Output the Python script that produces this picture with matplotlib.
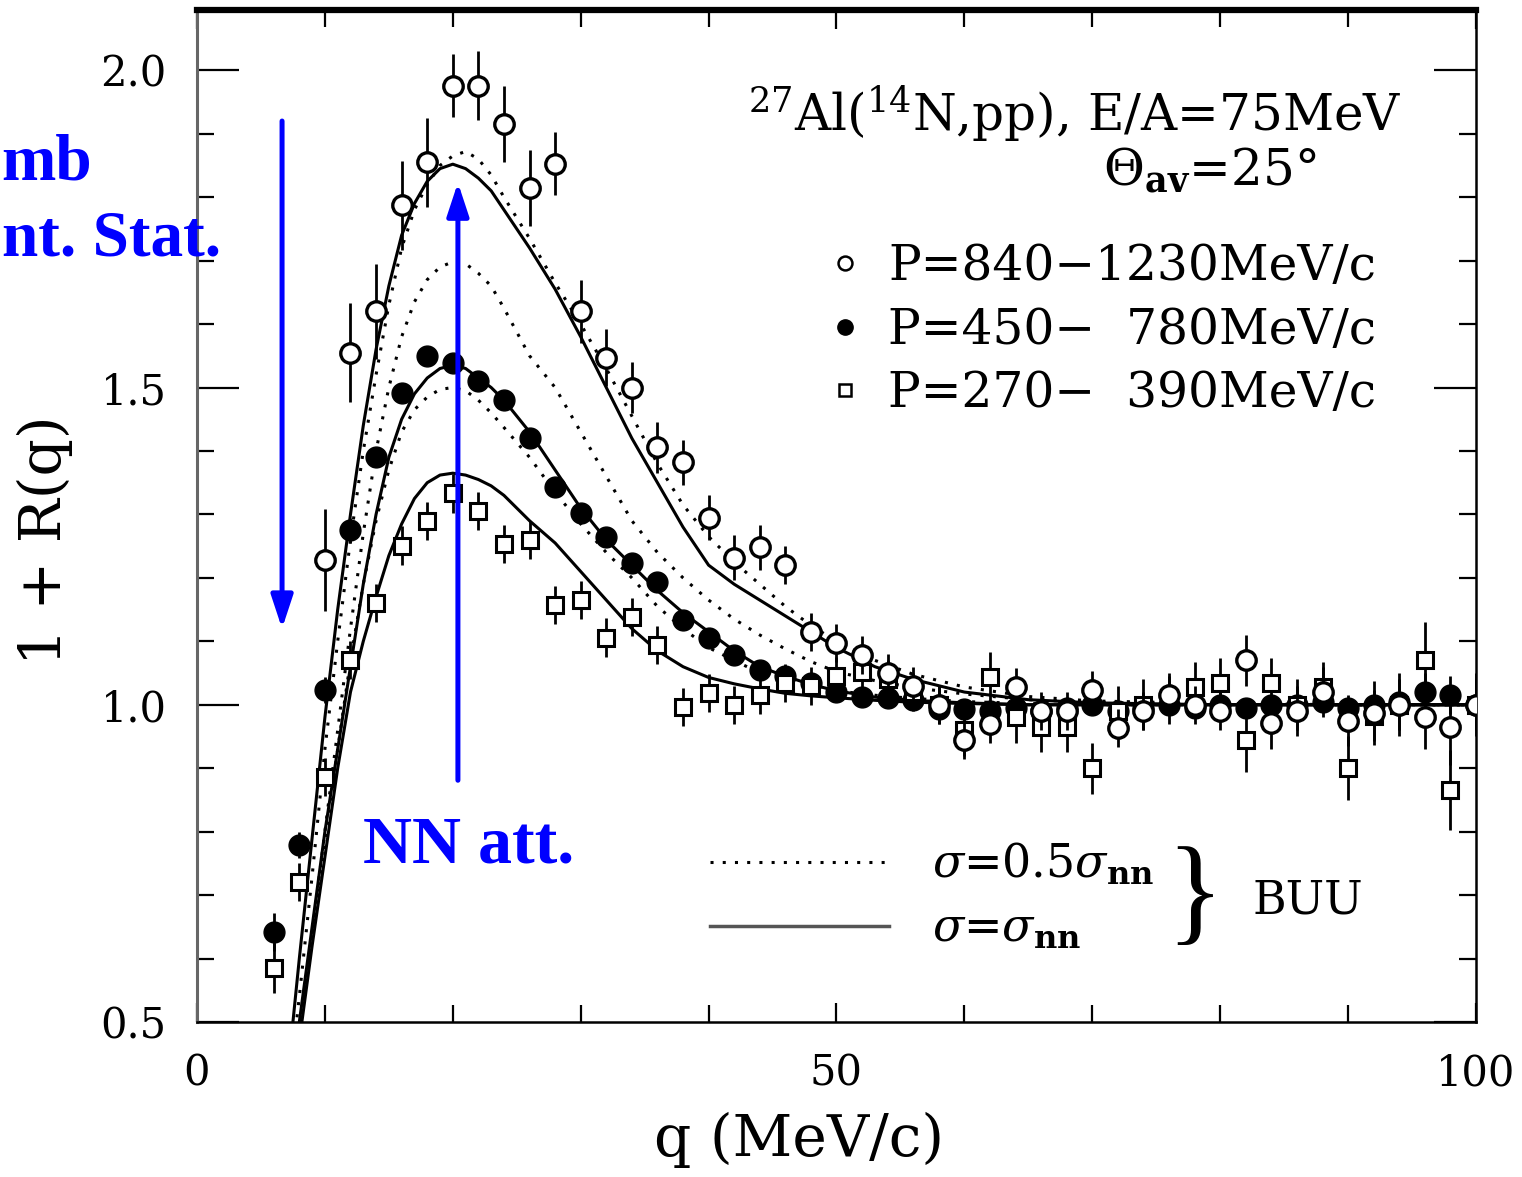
import matplotlib
matplotlib.use("Agg")
import matplotlib.pyplot as plt
from matplotlib.lines import Line2D
from matplotlib.ticker import MultipleLocator

plt.rcParams['font.family'] = 'DejaVu Serif'
plt.rcParams['mathtext.fontset'] = 'dejavuserif'

# data points, q in MeV/c
q_open = [10, 12, 14, 16, 18, 20, 22, 24, 26, 28, 30, 32, 34, 36, 38, 40, 42, 44, 46, 48,
          50, 52, 54, 56, 58, 60, 62, 64, 66, 68, 70, 72, 74, 76, 78, 80, 82, 84, 86, 88,
          90, 92, 94, 96, 98, 100]
r_open = [1.228, 1.555, 1.62, 1.787, 1.855, 1.976, 1.976, 1.916, 1.815, 1.853, 1.62, 1.547,
          1.50, 1.406, 1.382, 1.295, 1.232, 1.248, 1.22, 1.114, 1.097, 1.078, 1.05, 1.03,
          1.0, 0.945, 0.97, 1.028, 0.99, 0.99, 1.023, 0.963, 0.99, 1.015, 1.0, 0.99, 1.07,
          0.971, 0.99, 1.02, 0.975, 0.987, 1.0, 0.98, 0.965, 1.0]
e_open = [0.08, 0.078, 0.075, 0.07, 0.07, 0.05, 0.054, 0.06, 0.06, 0.05, 0.05, 0.045,
          0.04, 0.04, 0.035, 0.035, 0.035, 0.035, 0.03, 0.03, 0.03, 0.03, 0.03, 0.03,
          0.03, 0.03, 0.03, 0.03, 0.03, 0.03, 0.03, 0.03, 0.03, 0.03, 0.03, 0.03, 0.04,
          0.04, 0.04, 0.04, 0.04, 0.05, 0.05, 0.05, 0.06, 0.05]

q_full = [6, 8, 10, 12, 14, 16, 18, 20, 22, 24, 26, 28, 30, 32, 34, 36, 38, 40, 42, 44,
          46, 48, 50, 52, 54, 56, 58, 60, 62, 64, 66, 68, 70, 72, 74, 76, 78, 80, 82, 84,
          86, 88, 90, 92, 94, 96, 98, 100]
r_full = [0.642, 0.779, 1.023, 1.275, 1.39, 1.492, 1.55, 1.538, 1.511, 1.48, 1.421, 1.343,
          1.302, 1.264, 1.223, 1.193, 1.133, 1.106, 1.078, 1.054, 1.046, 1.034, 1.02, 1.012,
          1.01, 1.007, 0.994, 0.994, 0.99, 0.995, 0.99, 0.995, 1.0, 0.99, 0.995, 1.0, 0.995,
          1.0, 0.995, 1.0, 1.0, 1.005, 0.995, 1.0, 1.005, 1.02, 1.015, 1.0]
e_full = [0.03, 0.02, 0.02, 0.02, 0.015, 0.015, 0.015, 0.015, 0.015, 0.015, 0.015, 0.015,
          0.015, 0.015, 0.015, 0.015, 0.015, 0.015, 0.015, 0.015, 0.015, 0.015, 0.015, 0.015,
          0.015, 0.015, 0.015, 0.015, 0.015, 0.015, 0.015, 0.015, 0.015, 0.015, 0.015, 0.015,
          0.015, 0.015, 0.015, 0.015, 0.015, 0.015, 0.015, 0.015, 0.015, 0.03, 0.03, 0.015]

q_sq = q_full
r_sq = [0.585, 0.72, 0.886, 1.07, 1.161, 1.251, 1.29, 1.333, 1.306, 1.254, 1.259, 1.157,
        1.165, 1.106, 1.138, 1.094, 0.996, 1.018, 0.999, 1.015, 1.034, 1.03, 1.046, 1.051,
        1.04, 1.02, 1.0, 0.96, 1.043, 0.98, 0.965, 0.965, 0.90, 0.99, 1.0, 1.01, 1.028,
        1.034, 0.944, 1.034, 1.0, 1.028, 0.90, 0.983, 1.0, 1.07, 0.865, 1.0]
e_sq = [0.04, 0.03, 0.03, 0.03, 0.03, 0.03, 0.03, 0.03, 0.03, 0.03, 0.03, 0.03,
        0.03, 0.03, 0.03, 0.03, 0.03, 0.03, 0.03, 0.03, 0.03, 0.03, 0.03, 0.03,
        0.03, 0.03, 0.03, 0.04, 0.04, 0.04, 0.04, 0.04, 0.04, 0.04, 0.04, 0.04, 0.04,
        0.04, 0.05, 0.04, 0.04, 0.04, 0.05, 0.04, 0.04, 0.06, 0.063, 0.04]

# BUU curves
q_buu = [7.5, 8, 9, 10, 11, 12, 13, 14, 15, 16, 17, 18, 19, 20, 21, 22, 23, 24, 26, 28,
         30, 32, 34, 36, 38, 40, 42, 44, 46, 48, 50, 53, 56, 60, 65, 70, 80, 90, 100]
hi_full = [0.50, 0.60, 0.79, 0.98, 1.15, 1.30, 1.44, 1.56, 1.66, 1.74, 1.79, 1.825, 1.845,
           1.852, 1.845, 1.83, 1.81, 1.78, 1.72, 1.655, 1.58, 1.50, 1.42, 1.35, 1.28, 1.22,
           1.19, 1.165, 1.14, 1.115, 1.09, 1.06, 1.04, 1.02, 1.008, 1.003, 1.0, 1.0, 1.0]
hi_half = [0.45, 0.54, 0.73, 0.93, 1.10, 1.26, 1.40, 1.52, 1.63, 1.72, 1.78, 1.82, 1.85,
           1.865, 1.872, 1.86, 1.835, 1.80, 1.735, 1.665, 1.60, 1.53, 1.455, 1.38, 1.315,
           1.265, 1.225, 1.19, 1.155, 1.125, 1.10, 1.07, 1.048, 1.028, 1.013, 1.006, 1.002,
           1.0, 1.0]
mid_full = [0.42, 0.50, 0.65, 0.80, 0.93, 1.06, 1.19, 1.30, 1.39, 1.45, 1.49, 1.515, 1.53,
            1.535, 1.53, 1.515, 1.50, 1.48, 1.43, 1.37, 1.31, 1.26, 1.22, 1.18, 1.145, 1.115,
            1.085, 1.06, 1.045, 1.032, 1.022, 1.012, 1.007, 1.003, 1.0, 1.0, 1.0, 1.0, 1.0]
mid_half = [0.40, 0.48, 0.64, 0.80, 0.96, 1.12, 1.27, 1.40, 1.50, 1.58, 1.635, 1.67, 1.69,
            1.698, 1.695, 1.68, 1.66, 1.625, 1.55, 1.50, 1.43, 1.36, 1.29, 1.24, 1.20, 1.165,
            1.135, 1.11, 1.088, 1.068, 1.052, 1.038, 1.027, 1.017, 1.008, 1.004, 1.001, 1.0, 1.0]
lo_full = [0.40, 0.47, 0.62, 0.76, 0.90, 1.02, 1.10, 1.17, 1.235, 1.285, 1.325, 1.35, 1.362,
           1.365, 1.362, 1.355, 1.345, 1.33, 1.29, 1.255, 1.21, 1.165, 1.12, 1.085, 1.06,
           1.043, 1.033, 1.025, 1.018, 1.014, 1.011, 1.007, 1.004, 1.002, 1.0, 1.0, 1.0, 1.0, 1.0]
lo_half = [0.41, 0.48, 0.63, 0.78, 0.93, 1.07, 1.19, 1.29, 1.37, 1.43, 1.465, 1.485, 1.497,
           1.50, 1.495, 1.48, 1.46, 1.437, 1.39, 1.335, 1.285, 1.24, 1.20, 1.155, 1.12, 1.09,
           1.07, 1.05, 1.04, 1.03, 1.022, 1.015, 1.01, 1.005, 1.002, 1.0, 1.0, 1.0, 1.0]

fig = plt.figure(figsize=(15.22, 11.77), dpi=100)
ax = fig.add_axes([197 / 1522, 155 / 1177, 1279 / 1522, 1012 / 1177])

dot = (0, (1, 3))
for y in [hi_half, mid_half, lo_half]:
    ax.plot(q_buu, y, color='black', lw=2.2, linestyle=dot, zorder=2)
for y in [hi_full, mid_full, lo_full]:
    ax.plot(q_buu, y, color='black', lw=2.2, zorder=2)

ax.errorbar(q_full, r_full, yerr=e_full, fmt='o', ms=15, mfc='black', mec='black',
            ecolor='black', elinewidth=2, capsize=0, zorder=3)
ax.errorbar(q_sq, r_sq, yerr=e_sq, fmt='s', ms=12, mfc='white', mec='black', mew=2.2,
            ecolor='black', elinewidth=2, capsize=0, zorder=4)
ax.errorbar(q_open, r_open, yerr=e_open, fmt='o', ms=14, mfc='white', mec='black', mew=2.4,
            ecolor='black', elinewidth=2, capsize=0, zorder=5)

ax.set_xlim(0, 100)
ax.set_ylim(0.5, 2.095)
ax.set_xticks([0, 50, 100])
ax.xaxis.set_minor_locator(MultipleLocator(10))
ax.set_yticks([0.5, 1.0, 1.5, 2.0])
ax.set_yticklabels(['0.5', '1.0', '1.5', '2.0'])
ax.yaxis.set_minor_locator(MultipleLocator(0.1))
ax.tick_params(axis='both', which='both', direction='in', top=True, right=True,
               labelsize=30, width=1.6)
ax.tick_params(axis='y', which='major', length=30, pad=22)
ax.tick_params(axis='y', which='minor', length=12)
ax.tick_params(axis='x', which='major', length=14, pad=22)
ax.tick_params(axis='x', which='minor', length=12)
for s in ['bottom', 'right']:
    ax.spines[s].set_linewidth(1.8)
ax.spines['left'].set_linewidth(2.2)
ax.spines['left'].set_color('#666666')
ax.spines['top'].set_linewidth(4.5)

ax.set_xlabel('q (MeV/c)', fontsize=42)
ax.xaxis.set_label_coords(0.471, -0.117)
ax.xaxis.label.set_va('center')
ax.set_ylabel('1 + R(q)', fontsize=42)
ax.yaxis.set_label_coords(-0.119, 0.476)
ax.yaxis.label.set_va('center')

ax.text(0.942, 0.881, '$^{27}$Al($^{14}$N,pp), E/A=75MeV', transform=ax.transAxes,
        fontsize=36, ha='right', va='baseline')
ax.text(0.875, 0.826, r'$\Theta_{\mathbf{av}}$=25°', transform=ax.transAxes,
        fontsize=36, ha='right', va='baseline')

h1 = [Line2D([], [], ls='none', marker='o', ms=10, mfc='white', mec='black', mew=1.8),
      Line2D([], [], ls='none', marker='o', ms=11, mfc='black', mec='black'),
      Line2D([], [], ls='none', marker='s', ms=9, mfc='white', mec='black', mew=1.8)]
leg1 = ax.legend(h1, ['P=840\u22121230MeV/c', 'P=450\u2212  780MeV/c', 'P=270\u2212  390MeV/c'],
                 loc='upper left', bbox_to_anchor=(830 / 1522, 1 - 243 / 1177),
                 bbox_transform=fig.transFigure, frameon=False, fontsize=35,
                 handlelength=0.6, handletextpad=0.6, labelspacing=0.34,
                 borderpad=0, borderaxespad=0)
ax.add_artist(leg1)

h2 = [Line2D([], [], color='black', lw=2.2, linestyle=dot),
      Line2D([], [], color='#555555', lw=2.5)]
ax.legend(h2, [r'$\sigma$=0.5$\sigma_{\mathbf{nn}}$', r'$\sigma$=$\sigma_{\mathbf{nn}}$'],
          loc='upper left', bbox_to_anchor=(710 / 1522, 1 - 842 / 1177),
          bbox_transform=fig.transFigure, frameon=False, fontsize=33,
          handlelength=3.9, handletextpad=0.95, labelspacing=0.4,
          borderpad=0, borderaxespad=0)
ax.text(0.78, 0.12, '}', transform=ax.transAxes, fontsize=85, ha='center',
        va='center', family='Liberation Serif')
ax.text(0.825, 0.12, 'BUU', transform=ax.transAxes, fontsize=33, ha='left', va='center')

# blue annotations
blue = '#0000FF'
arrow = dict(arrowstyle='-|>,head_length=1.0,head_width=0.33', color=blue, lw=3.6,
             mutation_scale=20, shrinkA=0, shrinkB=0)
ax.annotate('', xy=(6.65, 1.12), xytext=(6.65, 1.92), arrowprops=arrow, zorder=10)
ax.annotate('', xy=(20.4, 1.823), xytext=(20.4, 0.881), arrowprops=arrow, zorder=10)
ax.text(21.2, 0.777, 'NN att.', fontsize=49, color=blue, fontweight='bold',
        family='Liberation Serif', ha='center', va='center', zorder=10)
# labels on the left are cropped in the original figure
fig.text(0.001, 1 - 180 / 1177, 'mb', fontsize=47, color=blue,
         fontweight='bold', family='Liberation Serif', ha='left', va='baseline')
fig.text(0.001, 1 - 256 / 1177, 'nt. Stat.', fontsize=47, color=blue,
         fontweight='bold', family='Liberation Serif', ha='left', va='baseline')

fig.savefig('out.png', dpi=100)
